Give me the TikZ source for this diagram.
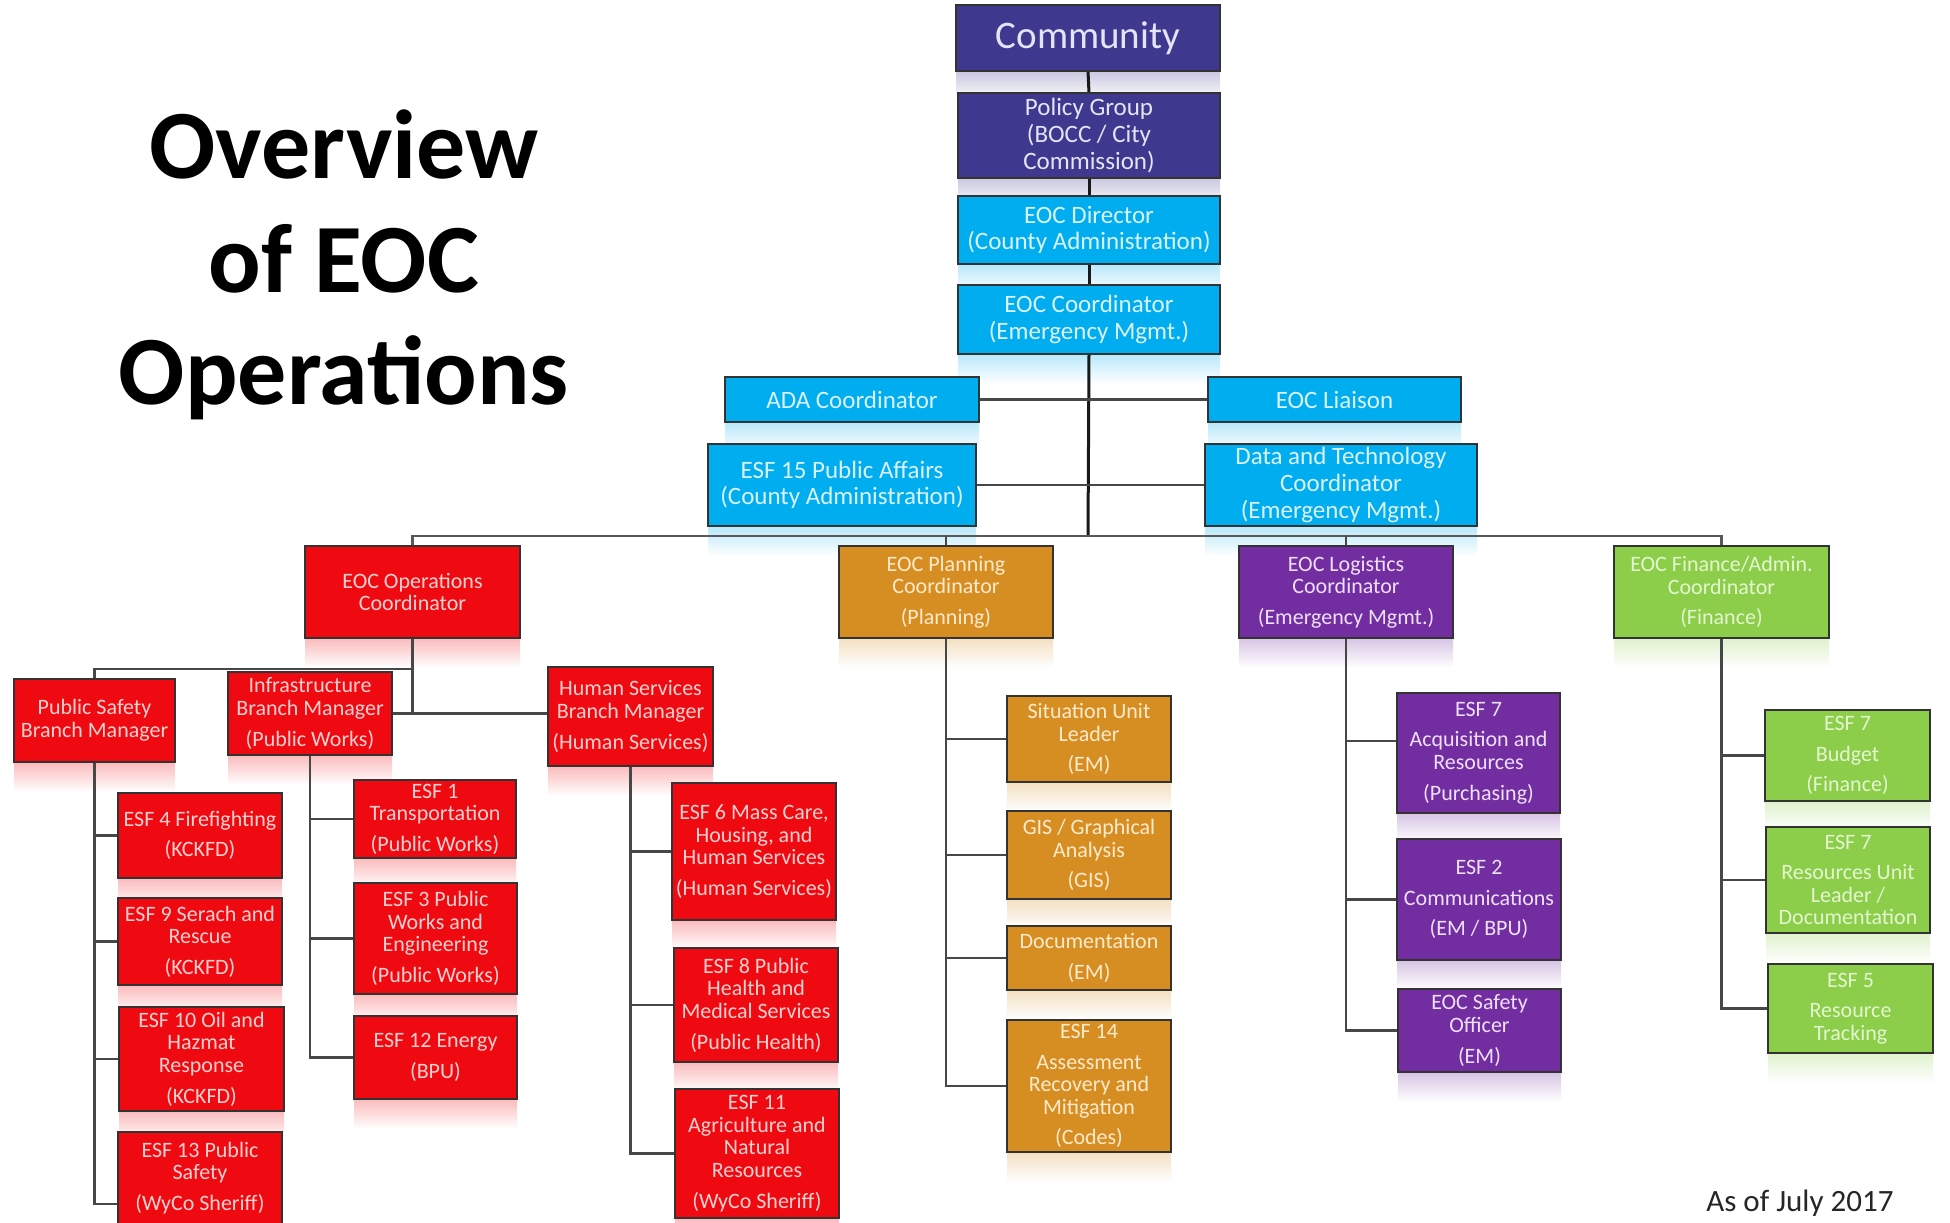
\documentclass[tikz,border=0pt]{standalone}
\usepackage{fontspec}
\setmainfont{Carlito}
\pgfdeclarelayer{refl}
\pgfdeclarelayer{lines}
\pgfsetlayers{refl,lines,main}
\definecolor{cnavy}{RGB}{62,57,142}
\definecolor{cblue}{RGB}{0,174,239}
\definecolor{cred}{RGB}{238,10,16}
\definecolor{cgold}{RGB}{214,142,34}
\definecolor{cpurp}{RGB}{114,46,160}
\definecolor{cgreen}{RGB}{140,206,74}
\definecolor{tnavy}{RGB}{228,228,246}
\definecolor{tblue}{RGB}{218,241,255}
\definecolor{tred}{RGB}{255,208,208}
\definecolor{tgold}{RGB}{255,234,204}
\definecolor{tpurp}{RGB}{238,224,252}
\definecolor{tgreen}{RGB}{228,246,208}
\tikzset{
  basebox/.style={draw=black!80, line width=0.9pt, inner sep=1pt, outer sep=0pt, align=center},
  bigtext/.style={font=\fontsize{12.5}{13.3}\selectfont},
  smalltext/.style={font=\fontsize{11}{11.3}\selectfont},
  boxnavy/.style={basebox, bigtext, fill=cnavy, text=tnavy},
  boxblue/.style={basebox, bigtext, fill=cblue, text=tblue},
  boxred/.style={basebox, smalltext, fill=cred, text=tred},
  boxgold/.style={basebox, smalltext, fill=cgold, text=tgold},
  boxpurp/.style={basebox, smalltext, fill=cpurp, text=tpurp},
  boxgreen/.style={basebox, smalltext, fill=cgreen, text=tgreen},
  trunkline/.style={draw=black!90, line width=1.5pt},
  busline/.style={draw=black!65, line width=1.4pt},
  conn/.style={draw=black!72, line width=1.2pt},
  titletext/.style={font=\fontsize{49}{57}\selectfont\bfseries, inner sep=0pt, text=black},
}
\newcommand\bx[7]{%
  \pgfmathsetmacro\bxw{(#4-#2)*0.5}%
  \pgfmathsetmacro\bxh{(#5-#3)*0.5}%
  \node[box#6, minimum width=\bxw pt, minimum height=\bxh pt, anchor=north west] (#1) at (#2,#3) {#7};
  \begin{pgfonlayer}{refl}
    \shade[top color=c#6!28!white, bottom color=white] (#2,#5) rectangle (#4,#5+30);
  \end{pgfonlayer}}
\begin{document}
\begin{tikzpicture}[x=0.5pt,y=-0.5pt]
\useasboundingbox (0,0) rectangle (1950,1222);
\begin{pgfonlayer}{refl}
  \fill[white] (0,0) rectangle (1950,1222);
\end{pgfonlayer}

% title
\node[titletext, anchor=base] (t1) at (344,178) {Overview};
\node[titletext, anchor=base] (t2) at (344,292) {of EOC};
\node[titletext, anchor=base] (t3) at (344,404) {Operations};

% top chain
\bx{comm}{956}{5}{1220}{71}{navy}{{\fontsize{19.5}{21}\selectfont Community}}
\bx{pol}{958}{93}{1220}{178}{navy}{Policy Group\\(BOCC / City\\Commission)}
\bx{dir}{958}{196}{1220}{264}{blue}{EOC Director\\(County Administration)}
\bx{coord}{958}{285}{1220}{354}{blue}{EOC Coordinator\\(Emergency Mgmt.)}
\bx{ada}{725}{377}{979}{422}{blue}{ADA Coordinator}
\bx{liai}{1208}{377}{1461}{422}{blue}{EOC Liaison}
\bx{esf15}{708}{444}{976}{526}{blue}{ESF 15 Public Affairs\\(County Administration)}
\bx{dt}{1205}{444}{1477}{526}{blue}{Data and Technology\\Coordinator\\(Emergency Mgmt.)}

% section coordinators
\bx{ops}{305}{546}{520}{638}{red}{EOC Operations\\Coordinator}
\bx{plan}{839}{546}{1053}{638}{gold}{EOC Planning\\Coordinator\\[4pt](Planning)}
\bx{logi}{1239}{546}{1453}{638}{purp}{EOC Logistics\\Coordinator\\[4pt](Emergency Mgmt.)}
\bx{fin}{1614}{546}{1829}{638}{green}{EOC Finance/Admin.\\Coordinator\\[4pt](Finance)}

% operations branches
\bx{ps}{14}{679}{175}{762}{red}{Public Safety\\Branch Manager}
\bx{infra}{228}{672}{392}{755}{red}{Infrastructure\\Branch Manager\\[4pt](Public Works)}
\bx{hs}{548}{667}{713}{766}{red}{Human Services\\Branch Manager\\[4pt](Human Services)}

\bx{esf4}{118}{793}{282}{878}{red}{ESF 4 Firefighting\\[4pt](KCKFD)}
\bx{esf9}{118}{898}{282}{985}{red}{ESF 9 Serach and\\Rescue\\[4pt](KCKFD)}
\bx{esf10}{119}{1007}{284}{1111}{red}{ESF 10 Oil and\\Hazmat\\Response\\[4pt](KCKFD)}
\bx{esf13}{118}{1132}{282}{1224}{red}{ESF 13 Public\\Safety\\[4pt](WyCo Sheriff)}

\bx{esf1}{354}{780}{516}{858}{red}{ESF 1\\Transportation\\[4pt](Public Works)}
\bx{esf3}{354}{883}{517}{994}{red}{ESF 3 Public\\Works and\\Engineering\\[4pt](Public Works)}
\bx{esf12}{354}{1016}{517}{1099}{red}{ESF 12 Energy\\[4pt](BPU)}

\bx{esf6}{672}{783}{836}{920}{red}{ESF 6 Mass Care,\\Housing, and\\Human Services\\[4pt](Human Services)}
\bx{esf8}{674}{948}{838}{1062}{red}{ESF 8 Public\\Health and\\Medical Services\\[4pt](Public Health)}
\bx{esf11}{675}{1089}{839}{1218}{red}{ESF 11\\Agriculture and\\Natural\\Resources\\[4pt](WyCo Sheriff)}

% planning
\bx{sit}{1007}{696}{1171}{782}{gold}{Situation Unit\\Leader\\[4pt](EM)}
\bx{gis}{1007}{811}{1171}{899}{gold}{GIS / Graphical\\Analysis\\[4pt](GIS)}
\bx{doc}{1007}{926}{1171}{990}{gold}{Documentation\\[4pt](EM)}
\bx{esf14}{1007}{1020}{1171}{1152}{gold}{ESF 14\\[4pt]Assessment\\Recovery and\\Mitigation\\[4pt](Codes)}

% logistics
\bx{esf7a}{1397}{693}{1560}{813}{purp}{ESF 7\\[4pt]Acquisition and\\Resources\\[4pt](Purchasing)}
\bx{esf2}{1397}{839}{1561}{960}{purp}{ESF 2\\[4pt]Communications\\[4pt](EM / BPU)}
\bx{safe}{1398}{989}{1561}{1072}{purp}{EOC Safety\\Officer\\[4pt](EM)}

% finance
\bx{esf7b}{1765}{710}{1930}{801}{green}{ESF 7\\[4pt]Budget\\[4pt](Finance)}
\bx{esf7r}{1766}{827}{1930}{933}{green}{ESF 7\\[4pt]Resources Unit\\Leader /\\Documentation}
\bx{esf5}{1768}{964}{1933}{1053}{green}{ESF 5\\[4pt]Resource\\Tracking}

\node[anchor=base west, inner sep=0pt, font=\fontsize{15.5}{16}\selectfont, text=black!85] (asof) at (1706,1211) {As of July 2017};

% connectors
\begin{pgfonlayer}{lines}
  \coordinate (bus) at (1088,536);
  \coordinate (opj) at (414,669);
  \draw[trunkline] (comm.south) -- (pol.north);
  \draw[trunkline] (pol.south) -- (dir.north);
  \draw[trunkline] (dir.south) -- (coord.north);
  \draw[trunkline] (coord.south) -- (bus);
  \draw[conn] (ada.east) -- (liai.west);
  \draw[conn] (esf15.east) -- (dt.west);
  \draw[busline] (ops.north) |- (bus) -| (fin.north);
  \draw[conn] (plan.north) -- (plan.north |- bus);
  \draw[conn] (logi.north) -- (logi.north |- bus);
  % operations
  \draw[conn] (ops.south) -- (ops.south |- infra.east);
  \draw[conn] (infra.east) -- (hs.west |- infra.east);
  \draw[conn] (ops.south |- opj) -| (ps.north);
  \draw[conn] (ps.south) |- ([yshift=-13pt]esf13.west);
  \foreach \n in {esf4,esf9,esf10} \draw[conn] (ps.south |- \n.west) -- (\n.west);
  \draw[conn] (infra.south) |- (esf12.west);
  \foreach \n in {esf1,esf3} \draw[conn] (infra.south |- \n.west) -- (\n.west);
  \draw[conn] (hs.south) |- (esf11.west);
  \foreach \n in {esf6,esf8} \draw[conn] (hs.south |- \n.west) -- (\n.west);
  % planning
  \draw[conn] (plan.south) |- (esf14.west);
  \foreach \n in {sit,gis,doc} \draw[conn] (plan.south |- \n.west) -- (\n.west);
  % logistics
  \draw[conn] (logi.south) |- (safe.west);
  \draw[conn] (logi.south |- esf7a.west) ++(0,-12) -- ([yshift=6pt]esf7a.west);
  \draw[conn] (logi.south |- esf2.west) -- (esf2.west);
  % finance
  \draw[conn] (fin.south) |- (esf5.west);
  \foreach \n in {esf7b,esf7r} \draw[conn] (fin.south |- \n.west) -- (\n.west);
\end{pgfonlayer}
\end{tikzpicture}
\end{document}
